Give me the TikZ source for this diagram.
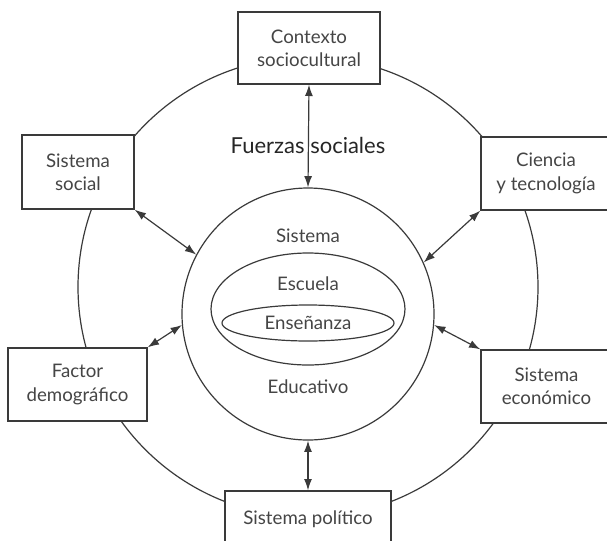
\documentclass[tikz,border=0pt]{standalone}
\usepackage{fontspec}
\setmainfont{Lato}
\usetikzlibrary{arrows.meta,shapes.geometric}
\definecolor{ink}{HTML}{3A3A3A}
\definecolor{txt}{HTML}{454545}
\def\pxu{0.75pt}
\tikzset{
  box/.style={draw=ink, line width=1pt, fill=white, inner sep=0pt, align=center,
    text=txt, font=\fontsize{14}{17.5}\selectfont},
  ring/.style={draw=ink, line width=0.9pt, circle, inner sep=0pt},
  oval/.style={draw=ink, line width=0.9pt, ellipse, inner sep=0pt},
  lbl/.style={text=txt, font=\fontsize{14}{17.5}\selectfont, inner sep=0pt},
  link/.style={draw=ink, line width=0.9pt, {Latex[length=8.5pt,width=6pt]}-{Latex[length=8.5pt,width=6pt]}}
}
\begin{document}
\begin{tikzpicture}[x=0.75pt,y=-0.75pt]
\useasboundingbox (0,0) rectangle (607,540);
% circles
\node[ring, minimum size=460*\pxu] (outer) at (308,287) {};
\node[ring, minimum size=252*\pxu] (inner) at (308,314) {};
\node[oval, minimum width=194*\pxu, minimum height=112*\pxu] (escuela) at (308,309) {};
\node[oval, minimum width=172*\pxu, minimum height=36*\pxu, lbl] (ens) at (308,323) {Enseñanza};
\node[lbl] (sis) at (308,236) {Sistema};
\node[lbl] (esc) at (308,284) {Escuela};
\node[lbl] (edu) at (308,387) {Educativo};
\node[lbl, font=\fontsize{16.5}{19}\selectfont, text=black!85] (fs) at (308,145) {Fuerzas sociales};
% boxes
\node[box, minimum width=142*\pxu, minimum height=72*\pxu] (ctx) at (309,48) {Contexto\\sociocultural};
\node[box, minimum width=112*\pxu, minimum height=74*\pxu] (ss) at (78,172) {Sistema\\social};
\node[box, minimum width=130*\pxu, minimum height=73*\pxu] (ct) at (546,173.5) {Ciencia\\y tecnología};
\node[box, minimum width=139*\pxu, minimum height=73*\pxu] (fd) at (77.5,384.5) {Factor\\demográfico};
\node[box, minimum width=131*\pxu, minimum height=73*\pxu] (se) at (546.5,386.5) {Sistema\\económico};
\node[box, minimum width=166*\pxu, minimum height=56*\pxu] (sp) at (308,519) {Sistema político};
% connectors
\draw[link] (ctx.south) -- (inner.north);
\draw[link] (inner.south) -- (sp.north);
\draw[link] (ss.south east) -- (inner.152);
\draw[link] (ct.south west) -- (inner.24);
\draw[link] (fd.north east) -- (inner.185);
\draw[link] (se.north west) -- (inner.355);
\end{tikzpicture}
\end{document}
